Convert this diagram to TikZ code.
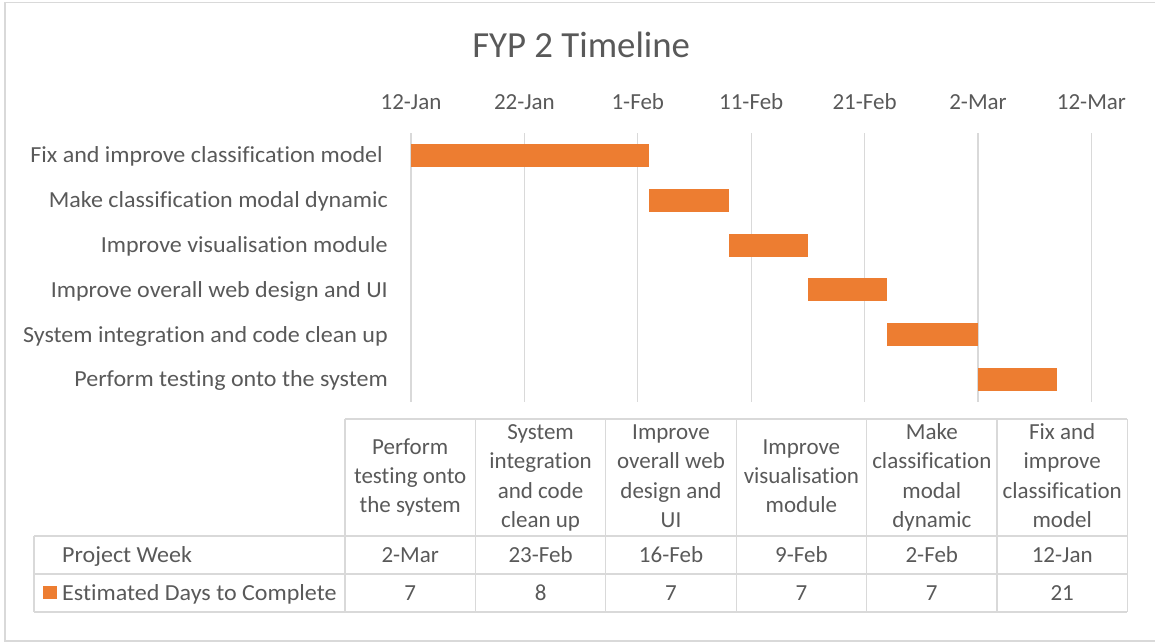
\documentclass[tikz,border=0pt]{standalone}
\usepackage{fontspec}
\setmainfont[Ligatures=CommonOff]{Carlito}
\newfontfamily\widefont[FakeStretch=1.045,Ligatures=CommonOff]{Carlito}
\definecolor{txt}{HTML}{595959}
\definecolor{rule}{HTML}{D9D9D9}
\definecolor{task}{HTML}{ED7D31}

\begin{document}
\begin{tikzpicture}[x=1pt,y=-1pt,
  every node/.style={text=txt,inner sep=0pt,font=\fontsize{23}{29.3}\selectfont},
  titletext/.style={anchor=base,font=\fontsize{36.8}{44}\selectfont},
  gridline/.style={draw=rule,line width=1.3pt},
  tablerule/.style={draw=rule,line width=1.2pt},
  chartframe/.style={draw=rule,line width=1.3pt},
  taskbar/.style={fill=task},
  axislabel/.style={anchor=base},
  catlabel/.style={anchor=base east,font=\widefont\fontsize{23}{29.3}\selectfont},
  headcell/.style={align=center},
  valcell/.style={anchor=base},
  rowhead/.style={anchor=base west,font=\widefont\fontsize{23}{29.3}\selectfont}]
\useasboundingbox (0,0) rectangle (1155,642);

% outer chart frame (right side runs off the page)
\draw[chartframe] (1160,2.5) -- (5,2.5) -- (5,641) -- (1160,641);

% title
\node[titletext] (title) at (581.2,58) {FYP 2 Timeline};

% date axis: gridlines every 10 days, 11.34 px per day
\foreach \k/\d in {0/12-Jan,1/22-Jan,2/1-Feb,3/11-Feb,4/21-Feb,5/2-Mar,6/12-Mar}{
  \draw[gridline] ({411+113.4*\k},133) -- ({411+113.4*\k},402);
  \node[axislabel] (ax\k) at ({411+113.4*\k},109.3) {\d};
}

% task bars (start day, duration) with row centres 44.83 px apart
\foreach \i/\s/\n in {0/0/21,1/21/7,2/28/7,3/35/7,4/42/8,5/50/7}{
  \fill[taskbar] ({411+11.34*\s},{133+44.83*(\i+0.5)-11.5})
    rectangle ({411+11.34*(\s+\n)},{133+44.83*(\i+0.5)+11.5});
}

% task names
\node[catlabel] (c0) at (383,{133+44.83*0.5+7.3}) {Fix and improve classification model};
\node[catlabel] (c1) at (388,{133+44.83*1.5+7.3}) {Make classification modal dynamic};
\node[catlabel] (c2) at (388,{133+44.83*2.5+7.3}) {Improve visualisation module};
\node[catlabel] (c3) at (388,{133+44.83*3.5+7.3}) {Improve overall web design and UI};
\node[catlabel] (c4) at (388,{133+44.83*4.5+7.3}) {System integration and code clean up};
\node[catlabel] (c5) at (388,{133+44.83*5.5+7.3}) {Perform testing onto the system};

% data table grid
\draw[tablerule] (345,419) -- (1127.4,419);
\foreach \y in {536,574,612}{\draw[tablerule] (34,\y) -- (1127.4,\y);}
\draw[tablerule] (34,536) -- (34,612);
\foreach \k in {0,...,6}{\draw[tablerule] ({345+130.4*\k},419) -- ({345+130.4*\k},612);}

% table header row
\node[headcell] (h0) at (410.2,477.5) {\strut Perform\\\strut testing onto\\\strut the system};
\node[headcell] (h1) at (540.6,477.5) {\strut System\\\strut integration\\\strut and code\\\strut clean up};
\node[headcell] (h2) at (671.0,477.5) {\strut Improve\\\strut overall web\\\strut design and\\\strut UI};
\node[headcell] (h3) at (801.4,477.5) {\strut Improve\\\strut visualisation\\\strut module};
\node[headcell] (h4) at (931.8,477.5) {\strut Make\\\strut classification\\\strut modal\\\strut dynamic};
\node[headcell] (h5) at (1062.2,477.5) {\strut Fix and\\\strut improve\\\strut classification\\\strut model};

% row headings with legend key
\node[rowhead] (rw) at (62,562.4) {Project Week};
\node[rowhead] (rd) at (62,600.4) {Estimated Days to Complete};
\fill[taskbar] (43.3,586) rectangle (56.7,599.3);

% table values
\foreach \k/\w/\n in {0/2-Mar/7,1/23-Feb/8,2/16-Feb/7,3/9-Feb/7,4/2-Feb/7,5/12-Jan/21}{
  \node[valcell] (w\k) at ({410.2+130.4*\k},562.4) {\w};
  \node[valcell] (n\k) at ({410.2+130.4*\k},600.4) {\n};
}
\end{tikzpicture}
\end{document}
